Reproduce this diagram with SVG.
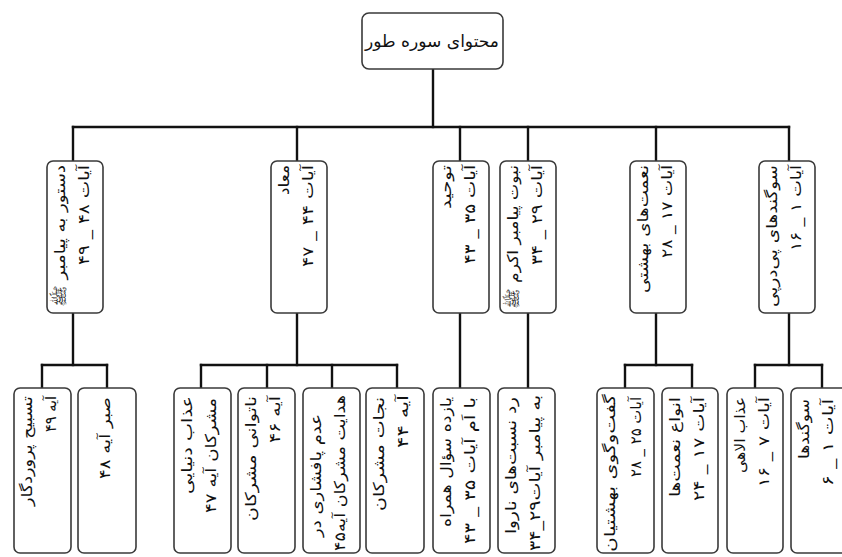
<svg xmlns="http://www.w3.org/2000/svg" width="842" height="557" viewBox="0 0 842 557">
<style>
.box{fill:#fff;stroke:#3a3a3a;stroke-width:1.6}
.conn line{stroke:#111;stroke-width:2.4;stroke-linecap:square}
.t{font-family:'DejaVu Sans',sans-serif;font-size:15px;fill:#111}
.r{font-family:'DejaVu Sans',sans-serif;font-size:17px;fill:#111}
</style>
<rect width="842" height="557" fill="#fff"/>
<g id="connectors" class="conn">
<line x1="433" y1="69" x2="433" y2="127"/>
<line x1="73" y1="127" x2="789" y2="127"/>
<line x1="73" y1="127" x2="73" y2="161"/>
<line x1="297" y1="127" x2="297" y2="161"/>
<line x1="460" y1="127" x2="460" y2="161"/>
<line x1="528" y1="127" x2="528" y2="161"/>
<line x1="656" y1="127" x2="656" y2="161"/>
<line x1="789" y1="127" x2="789" y2="161"/>
<line x1="73" y1="313" x2="73" y2="365"/>
<line x1="42" y1="365" x2="107" y2="365"/>
<line x1="42" y1="365" x2="42" y2="388"/>
<line x1="107" y1="365" x2="107" y2="388"/>
<line x1="297" y1="313" x2="297" y2="365"/>
<line x1="201" y1="365" x2="397" y2="365"/>
<line x1="201" y1="365" x2="201" y2="388"/>
<line x1="267" y1="365" x2="267" y2="388"/>
<line x1="332" y1="365" x2="332" y2="388"/>
<line x1="397" y1="365" x2="397" y2="388"/>
<line x1="460" y1="313" x2="460" y2="388"/>
<line x1="528" y1="313" x2="528" y2="388"/>
<line x1="656" y1="313" x2="656" y2="365"/>
<line x1="625" y1="365" x2="692" y2="365"/>
<line x1="625" y1="365" x2="625" y2="388"/>
<line x1="692" y1="365" x2="692" y2="388"/>
<line x1="789" y1="313" x2="789" y2="365"/>
<line x1="755" y1="365" x2="822" y2="365"/>
<line x1="755" y1="365" x2="755" y2="388"/>
<line x1="822" y1="365" x2="822" y2="388"/>
</g>
<g id="root"><rect class="box" x="362" y="13" width="141" height="56" rx="7"/><text class="r" x="432" y="47" text-anchor="middle" textLength="134" lengthAdjust="spacingAndGlyphs">محتوای سوره طور</text></g>
<g id="n-dastoor"><rect class="box" x="47" y="161" width="56" height="152" rx="6"/><text class="t" transform="translate(65,165) rotate(-90)" text-anchor="end" textLength="142" lengthAdjust="spacingAndGlyphs">دستور به پیامبر ﷺ</text><text class="t" transform="translate(89,165) rotate(-90)" text-anchor="end" textLength="100" lengthAdjust="spacingAndGlyphs">آیات ۴۸ _ ۴۹</text></g>
<g id="n-maad"><rect class="box" x="271" y="161" width="56" height="152" rx="6"/><text class="t" transform="translate(289,165) rotate(-90)" text-anchor="end" textLength="30" lengthAdjust="spacingAndGlyphs">معاد</text><text class="t" transform="translate(313,165) rotate(-90)" text-anchor="end" textLength="102" lengthAdjust="spacingAndGlyphs">آیات ۴۴ _ ۴۷</text></g>
<g id="n-tohid"><rect class="box" x="433" y="161" width="56" height="152" rx="6"/><text class="t" transform="translate(451,165) rotate(-90)" text-anchor="end" textLength="44" lengthAdjust="spacingAndGlyphs">توحید</text><text class="t" transform="translate(475,165) rotate(-90)" text-anchor="end" textLength="99" lengthAdjust="spacingAndGlyphs">آیات ۳۵ _ ۴۳</text></g>
<g id="n-nobovvat"><rect class="box" x="500" y="161" width="56" height="152" rx="6"/><text class="t" transform="translate(518,165) rotate(-90)" text-anchor="end" textLength="144" lengthAdjust="spacingAndGlyphs">نبوت پیامبر اکرم ﷺ</text><text class="t" transform="translate(542,165) rotate(-90)" text-anchor="end" textLength="100" lengthAdjust="spacingAndGlyphs">آیات ۲۹ _ ۳۴</text></g>
<g id="n-nemat"><rect class="box" x="630" y="161" width="56" height="152" rx="6"/><text class="t" transform="translate(648,165) rotate(-90)" text-anchor="end" textLength="128" lengthAdjust="spacingAndGlyphs">نعمت‌های بهشتی</text><text class="t" transform="translate(672,165) rotate(-90)" text-anchor="end" textLength="93" lengthAdjust="spacingAndGlyphs">آیات ۱۷ _ ۲۸</text></g>
<g id="n-sogand"><rect class="box" x="759" y="161" width="56" height="152" rx="6"/><text class="t" transform="translate(777,165) rotate(-90)" text-anchor="end" textLength="142" lengthAdjust="spacingAndGlyphs">سوگندهای پی‌درپی</text><text class="t" transform="translate(801,165) rotate(-90)" text-anchor="end" textLength="86" lengthAdjust="spacingAndGlyphs">آیات ۱ _ ۱۶</text></g>
<g id="c-tasbih"><rect class="box" x="14" y="388" width="57" height="165" rx="6"/><text class="t" transform="translate(32,396) rotate(-90)" text-anchor="end" textLength="110" lengthAdjust="spacingAndGlyphs">تسبیح پروردگار</text><text class="t" transform="translate(56,396) rotate(-90)" text-anchor="end" textLength="36" lengthAdjust="spacingAndGlyphs">آیه ۴۹</text></g>
<g id="c-sabr"><rect class="box" x="78" y="388" width="58" height="165" rx="6"/><text class="t" transform="translate(110,397) rotate(-90)" text-anchor="end" textLength="82" lengthAdjust="spacingAndGlyphs">صبر آیه ۴۸</text></g>
<g id="c-azab-donyai"><rect class="box" x="174" y="388" width="57" height="165" rx="6"/><text class="t" transform="translate(192,396) rotate(-90)" text-anchor="end" textLength="98" lengthAdjust="spacingAndGlyphs">عذاب دنیایی</text><text class="t" transform="translate(216,398) rotate(-90)" text-anchor="end" textLength="115" lengthAdjust="spacingAndGlyphs">مشرکان آیه ۴۷</text></g>
<g id="c-natavani"><rect class="box" x="238" y="388" width="57" height="165" rx="6"/><text class="t" transform="translate(256,396) rotate(-90)" text-anchor="end" textLength="125" lengthAdjust="spacingAndGlyphs">ناتوانی مشرکان</text><text class="t" transform="translate(280,396) rotate(-90)" text-anchor="end" textLength="47" lengthAdjust="spacingAndGlyphs">آیه ۴۶</text></g>
<g id="c-adam"><rect class="box" x="303" y="388" width="57" height="165" rx="6"/><text class="t" transform="translate(321,414) rotate(-90)" text-anchor="end" textLength="123" lengthAdjust="spacingAndGlyphs">عدم پافشاری در</text><text class="t" transform="translate(345,395) rotate(-90)" text-anchor="end" textLength="156" lengthAdjust="spacingAndGlyphs">هدایت مشرکان آیه۴۵</text></g>
<g id="c-nejat"><rect class="box" x="366" y="388" width="58" height="165" rx="6"/><text class="t" transform="translate(384,397) rotate(-90)" text-anchor="end" textLength="114" lengthAdjust="spacingAndGlyphs">نجات مشرکان</text><text class="t" transform="translate(408,395) rotate(-90)" text-anchor="end" textLength="53" lengthAdjust="spacingAndGlyphs">آیه ۴۴</text></g>
<g id="c-yazdah"><rect class="box" x="433" y="388" width="57" height="165" rx="6"/><text class="t" transform="translate(451,397) rotate(-90)" text-anchor="end" textLength="130" lengthAdjust="spacingAndGlyphs">یازده سؤال همراه</text><text class="t" transform="translate(475,397) rotate(-90)" text-anchor="end" textLength="147" lengthAdjust="spacingAndGlyphs">با اَم آیات ۳۵ _ ۴۳</text></g>
<g id="c-radd"><rect class="box" x="498" y="388" width="57" height="165" rx="6"/><text class="t" transform="translate(516,397) rotate(-90)" text-anchor="end" textLength="137" lengthAdjust="spacingAndGlyphs">رد نسبت‌های ناروا</text><text class="t" transform="translate(540,395) rotate(-90)" text-anchor="end" textLength="156" lengthAdjust="spacingAndGlyphs">به پیامبر آیات۲۹_۳۴</text></g>
<g id="c-goftogu"><rect class="box" x="597" y="388" width="57" height="165" rx="6"/><text class="t" transform="translate(615,394) rotate(-90)" text-anchor="end" textLength="158" lengthAdjust="spacingAndGlyphs">گفت‌وگوی بهشتیان</text><text class="t" transform="translate(641,397) rotate(-90)" text-anchor="end" textLength="80" lengthAdjust="spacingAndGlyphs">آیات ۲۵ _ ۲۸</text></g>
<g id="c-anva"><rect class="box" x="662" y="388" width="56" height="165" rx="6"/><text class="t" transform="translate(680,397) rotate(-90)" text-anchor="end" textLength="100" lengthAdjust="spacingAndGlyphs">انواع نعمت‌ها</text><text class="t" transform="translate(704,397) rotate(-90)" text-anchor="end" textLength="104" lengthAdjust="spacingAndGlyphs">آیات ۱۷ _ ۲۴</text></g>
<g id="c-azab-elahi"><rect class="box" x="727" y="388" width="56" height="165" rx="6"/><text class="t" transform="translate(745,397) rotate(-90)" text-anchor="end" textLength="76" lengthAdjust="spacingAndGlyphs">عذاب الاهی</text><text class="t" transform="translate(769,397) rotate(-90)" text-anchor="end" textLength="90" lengthAdjust="spacingAndGlyphs">آیات ۷ _ ۱۶</text></g>
<g id="c-sogandha"><rect class="box" x="791" y="388" width="57" height="165" rx="6"/><text class="t" transform="translate(809,399) rotate(-90)" text-anchor="end" textLength="60" lengthAdjust="spacingAndGlyphs">سوگندها</text><text class="t" transform="translate(833,399) rotate(-90)" text-anchor="end" textLength="87" lengthAdjust="spacingAndGlyphs">آیات ۱ _ ۶</text></g>
</svg>
